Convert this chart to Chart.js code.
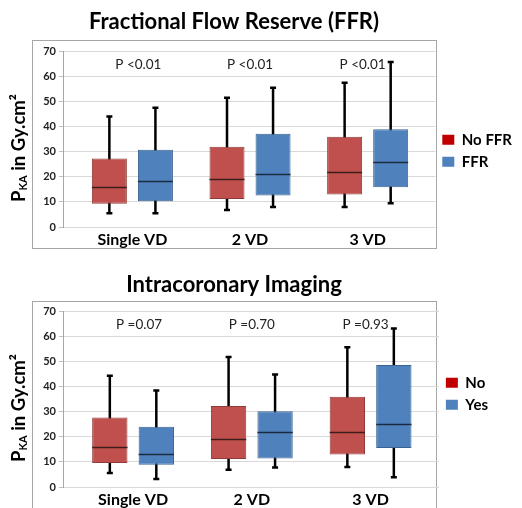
<!DOCTYPE html>
<html>
<head>
<meta charset="utf-8">
<script src="https://cdn.jsdelivr.net/npm/chart.js@4.4.1/dist/chart.umd.min.js"></script>
<style>
  html, body { margin: 0; padding: 0; background: #fff; overflow: hidden; }
  #wrap { position: relative; width: 522px; height: 508px; overflow: hidden; }
  canvas { position: absolute; left: 0; }
  #ffrChart { top: 0; }
  #icChart { top: 260px; }
  .frame { position: absolute; border: 1.5px solid #a6a6a6; box-sizing: border-box; }
  #ffrFrame { left: 32px; top: 40px; width: 405px; height: 209px; }
  #icFrame { left: 32px; top: 301px; width: 405px; height: 230px; }
</style>
</head>
<body>
<div id="wrap">
  <div class="frame" id="ffrFrame"></div>
  <div class="frame" id="icFrame"></div>
  <canvas id="ffrChart" width="522" height="260"></canvas>
  <canvas id="icChart" width="522" height="260"></canvas>
</div>
<script>
var categories = ['Single VD', '2 VD', '3 VD'];
var yTicks = [0, 10, 20, 30, 40, 50, 60, 70];

// Fractional Flow Reserve
var ffrNoMin = [5.5, 6.8, 8.0];
var ffrNoQ1 = [9.3, 11.2, 13.0];
var ffrNoMed = [16.0, 19.0, 21.8];
var ffrNoQ3 = [27.3, 32.0, 36.0];
var ffrNoMax = [44.0, 51.5, 57.5];

var ffrYesMin = [5.5, 8.0, 9.5];
var ffrYesQ1 = [10.3, 12.6, 15.8];
var ffrYesMed = [18.5, 21.2, 26.0];
var ffrYesQ3 = [30.8, 37.2, 39.0];
var ffrYesMax = [47.5, 55.5, 65.8];

var ffrPValues = ['P <0.01', 'P <0.01', 'P <0.01'];

// Intracoronary Imaging
var icNoMin = [5.6, 6.9, 8.0];
var icNoQ1 = [9.6, 11.2, 13.0];
var icNoMed = [16.0, 19.1, 21.9];
var icNoQ3 = [27.7, 32.3, 36.0];
var icNoMax = [44.3, 51.8, 55.7];

var icYesMin = [3.2, 7.8, 3.9];
var icYesQ1 = [8.9, 11.4, 15.5];
var icYesMed = [13.0, 21.9, 25.1];
var icYesQ3 = [24.0, 30.2, 48.6];
var icYesMax = [38.5, 44.8, 63.2];

var icPValues = ['P =0.07', 'P =0.70', 'P =0.93'];

Chart.defaults.font.family = 'Lato, "Open Sans", sans-serif';

var RED = '#c0504d', RED_EDGE = '#8f3b39', RED_MED = '#3d1c1b', RED_KEY = '#c00000';
var BLUE = '#4f81bd', BLUE_EDGE = '#3a6391', BLUE_MED = '#1c2c40', BLUE_KEY = '#4f81bd';

function boxDataset(label, min, q1, med, q3, max, fill, edge, medColor, keyColor) {
    return {
        label: label,
        data: q1.map(function (v, i) { return { x: i, y: [v, q3[i]] }; }),
        whiskerMin: min,
        whiskerMax: max,
        median: med,
        medianColor: medColor,
        keyColor: keyColor,
        backgroundColor: fill,
        borderColor: edge,
        borderWidth: 1,
        borderSkipped: false,
        categoryPercentage: 0.783,
        barPercentage: 0.76
    };
}

// whiskers behind the boxes, medians on top
var boxPlotPlugin = {
    id: 'boxPlot',
    beforeDatasetsDraw: function (chart) {
        var ctx = chart.ctx, y = chart.scales.y;
        ctx.save();
        ctx.strokeStyle = '#000';
        ctx.lineWidth = 2.5;
        chart.data.datasets.forEach(function (ds, di) {
            chart.getDatasetMeta(di).data.forEach(function (bar, i) {
                var top = y.getPixelForValue(ds.whiskerMax[i]);
                var bot = y.getPixelForValue(ds.whiskerMin[i]);
                ctx.beginPath();
                ctx.moveTo(bar.x, top);
                ctx.lineTo(bar.x, bot);
                ctx.moveTo(bar.x - 3, top);
                ctx.lineTo(bar.x + 3, top);
                ctx.moveTo(bar.x - 3, bot);
                ctx.lineTo(bar.x + 3, bot);
                ctx.stroke();
            });
        });
        ctx.restore();
    },
    afterDatasetsDraw: function (chart) {
        var ctx = chart.ctx, y = chart.scales.y;
        ctx.save();
        ctx.lineWidth = 1.3;
        chart.data.datasets.forEach(function (ds, di) {
            ctx.strokeStyle = ds.medianColor;
            chart.getDatasetMeta(di).data.forEach(function (bar, i) {
                var my = Math.round(y.getPixelForValue(ds.median[i])) + 0.5;
                ctx.beginPath();
                ctx.moveTo(bar.x - bar.width / 2, my);
                ctx.lineTo(bar.x + bar.width / 2, my);
                ctx.stroke();
            });
        });
        // p-value over each group (nudged a little like the original)
        var opts = chart.options.plugins.boxPlot;
        var shift = [6, 0, -5];
        ctx.fillStyle = '#222';
        ctx.font = '13.5px Lato, "Open Sans", sans-serif';
        ctx.textAlign = 'center';
        ctx.textBaseline = 'middle';
        opts.pValues.forEach(function (t, i) {
            ctx.fillText(t, chart.scales.x.getPixelForValue(i) + shift[i], y.getPixelForValue(64.8));
        });
        ctx.restore();
    }
};

// y axis title with subscript
var yTitlePlugin = {
    id: 'yTitle',
    afterDraw: function (chart) {
        var ctx = chart.ctx;
        var big = 'bold 18.5px Lato, "Open Sans", sans-serif';
        var small = 'bold 11px Lato, "Open Sans", sans-serif';
        ctx.save();
        ctx.font = big;
        var w1 = ctx.measureText('P').width;
        var w3 = ctx.measureText(' in Gy.cm\u00b2').width;
        ctx.font = small;
        var w2 = ctx.measureText('KA').width;
        var total = w1 + w2 + w3;
        ctx.translate(19, 148);
        ctx.rotate(-Math.PI / 2);
        ctx.fillStyle = '#000';
        ctx.textBaseline = 'middle';
        ctx.textAlign = 'left';
        var x = -total / 2;
        ctx.font = big;
        ctx.fillText('P', x, 0);
        ctx.font = small;
        ctx.fillText('KA', x + w1, 4);
        ctx.font = big;
        ctx.fillText(' in Gy.cm\u00b2', x + w1 + w2, 0);
        ctx.restore();
    }
};

function makeChart(id, title, datasets, pValues, lay) {
    return new Chart(document.getElementById(id), {
        type: 'bar',
        data: { datasets: datasets },
        options: {
            responsive: false,
            animation: false,
            layout: { padding: { left: lay.padLeft, right: lay.padRight, top: 0, bottom: 0 } },
            plugins: {
                title: {
                    display: true,
                    text: title,
                    color: '#000',
                    font: { size: 22, weight: 'bold' },
                    padding: { top: lay.titleTop, bottom: lay.titleBottom }
                },
                legend: {
                    position: 'right',
                    align: 'start',
                    maxWidth: 87,
                    title: { display: true, text: '', font: { size: 1 }, padding: { top: lay.legendTop, bottom: 0 } },
                    labels: {
                        boxWidth: 12,
                        boxHeight: 10,
                        padding: 7,
                        color: '#000',
                        font: { size: 15, weight: 'bold', lineHeight: 0.8 },
                        generateLabels: function (chart) {
                            return chart.data.datasets.map(function (ds, i) {
                                return {
                                    text: ds.label,
                                    fillStyle: ds.keyColor,
                                    strokeStyle: ds.keyColor,
                                    lineWidth: 0,
                                    fontColor: '#000',
                                    datasetIndex: i
                                };
                            });
                        }
                    }
                },
                tooltip: { enabled: false },
                boxPlot: { pValues: pValues }
            },
            scales: {
                x: {
                    type: 'linear',
                    offset: false,
                    min: -0.59,
                    max: 2.575,
                    afterBuildTicks: function (s) {
                        s.ticks = categories.map(function (c, i) { return { value: i }; });
                    },
                    afterFit: function (s) { s.height = 33; },
                    grid: { display: false, drawTicks: false, offset: false },
                    border: { display: false },
                    ticks: {
                        callback: function (v) { return categories[v]; },
                        color: '#000',
                        font: { size: 16, weight: 'bold' },
                        padding: 3,
                        maxRotation: 0,
                        autoSkip: false
                    }
                },
                y: {
                    min: 0,
                    max: 70,
                    afterBuildTicks: function (s) {
                        s.ticks = yTicks.map(function (v) { return { value: v }; });
                    },
                    afterFit: function (s) { s.width = 63 - lay.padLeft; },
                    grid: { color: '#d9d9d9', tickLength: 4, tickColor: '#bfbfbf' },
                    border: { color: '#a6a6a6' },
                    ticks: { color: '#222', font: { size: 11, weight: 'bold' }, padding: 3 }
                }
            }
        },
        plugins: [boxPlotPlugin, yTitlePlugin]
    });
}

document.addEventListener('DOMContentLoaded', function () {
    makeChart('ffrChart', 'Fractional Flow Reserve (FFR)', [
        boxDataset('No FFR', ffrNoMin, ffrNoQ1, ffrNoMed, ffrNoQ3, ffrNoMax, RED, RED_EDGE, RED_MED, RED_KEY),
        boxDataset('FFR', ffrYesMin, ffrYesQ1, ffrYesMed, ffrYesQ3, ffrYesMax, BLUE, BLUE_EDGE, BLUE_MED, BLUE_KEY)
    ], ffrPValues, { padLeft: -54, padRight: 0, titleTop: 9, titleBottom: 16, legendTop: 124 });

    makeChart('icChart', 'Intracoronary Imaging', [
        boxDataset('No', icNoMin, icNoQ1, icNoMed, icNoQ3, icNoMax, RED, RED_EDGE, RED_MED, RED_KEY),
        boxDataset('Yes', icYesMin, icYesQ1, icYesMed, icYesQ3, icYesMax, BLUE, BLUE_EDGE, BLUE_MED, BLUE_KEY)
    ], icPValues, { padLeft: -30, padRight: 24, titleTop: 12, titleBottom: 13, legendTop: 107 });
});
</script>
</body>
</html>
